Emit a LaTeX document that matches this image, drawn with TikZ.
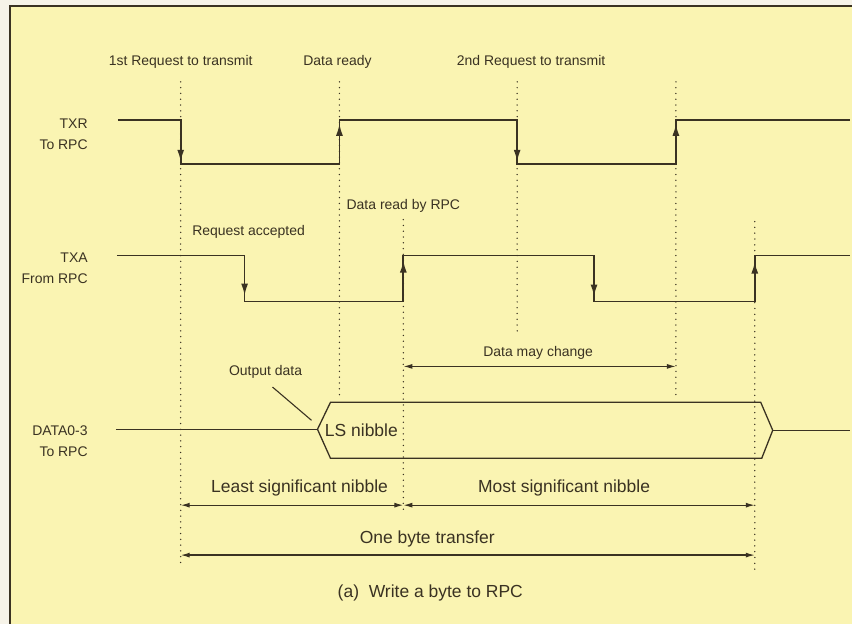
\documentclass[tikz,border=0pt]{standalone}
\usepackage{fontspec}
\setmainfont{Liberation Sans}
\usetikzlibrary{arrows.meta,calc,positioning}
\definecolor{paper}{RGB}{250,244,178}
\definecolor{margin}{RGB}{246,243,232}
\definecolor{ink}{RGB}{58,50,34}
\tikzset{
  signal/.style={draw=ink, line width=1.7pt, line join=miter},
  edge/.style={draw=ink, line width=1.7pt, -{Latex[length=12pt,width=7pt]}},
  guide/.style={draw=ink, line width=1.5pt, line cap=round,
    dash pattern=on 0pt off 5.8pt},
  dimen/.style={draw=ink, line width=1.2pt,
    {Latex[length=9pt,width=5pt]}-{Latex[length=9pt,width=5pt]}},
  leader/.style={draw=ink, line width=1.1pt},
  small/.style={text=ink, font=\fontsize{14}{21}\selectfont, inner sep=0pt},
  big/.style={text=ink, font=\fontsize{17.5}{20}\selectfont, inner sep=0pt},
  siglabel/.style={small, align=right, anchor=east},
}
\begin{document}
\begin{tikzpicture}[x=1pt,y=-1pt]
  \fill[margin] (0,0) rectangle (853,625);
  \fill[paper] (9,5) rectangle (853,625);
  \draw[ink, line width=2.8pt] (10,625) -- (10,6) -- (853,6);
  \useasboundingbox (0,0) rectangle (853,625);

  % time marks and rows
  \coordinate (ReqOne) at (181,0);
  \coordinate (Accept) at (245,0);
  \coordinate (Ready) at (340,0);
  \coordinate (ReadOne) at (404,0);
  \coordinate (ReqTwo) at (518,0);
  \coordinate (AcceptTwo) at (595,0);
  \coordinate (ReadyTwo) at (677,0);
  \coordinate (ReadTwo) at (756,0);
  \coordinate (RowChange) at (0,367);
  \coordinate (RowNibble) at (0,506);
  \coordinate (RowByte) at (0,556);

  % dotted guides
  \draw[guide] (ReqOne |- 0,82) -- (ReqOne |- 0,568);
  \draw[guide] (Ready |- 0,82) -- (Ready |- 0,398);
  \draw[guide] (ReadOne |- 0,220) -- (ReadOne |- 0,514);
  \draw[guide] (ReqTwo |- 0,82) -- (ReqTwo |- 0,334);
  \draw[guide] (ReadyTwo |- 0,82) -- (ReadyTwo |- 0,398);
  \draw[guide] (ReadTwo |- 0,222) -- (ReadTwo |- 0,570);

  % top labels
  \node[small] (FirstReq) at (181,62) {1st Request to transmit};
  \node[small] (DataReady) at (338,62) {Data ready};
  \node[small] (SecondReq) at (532,62) {2nd Request to transmit};
  \node[small] (DataRead) at (404,206) {Data read by RPC};
  \node[small] (ReqAccepted) at (249,232) {Request accepted};

  % signal names
  \node[siglabel] (TXR) at (88,134) {TXR\\To RPC};
  \node[siglabel] (TXA) at (88,269) {TXA\\From RPC};
  \node[siglabel] (DATA) at (88,442) {DATA0-3\\To RPC};

  % TXR
  \draw[signal] (118,120) -- (181,120) -- (181,164) -- (340,164) -- (340,120)
    -- (518,120) -- (518,164) -- (677,164) -- (677,120) -- (851,120);
  \draw[edge] (181,128) -- (181,162);
  \draw[edge] (340,158) -- (340,124);
  \draw[edge] (518,128) -- (518,162);
  \draw[edge] (677,158) -- (677,124);

  % TXA
  \draw[signal] (117,256) -- (245,256) -- (245,302) -- (404,302) -- (404,256)
    -- (595,256) -- (595,302) -- (756,302) -- (756,256) -- (851,256);
  \draw[edge] (245,262) -- (245,296);
  \draw[edge] (404,298) -- (404,261);
  \draw[edge] (595,262) -- (595,297);
  \draw[edge] (756,296) -- (756,262);

  % DATA0-3
  \coordinate (BoxLeft) at (318,430);
  \coordinate (BoxRight) at (774,431);
  \draw[signal, line width=1.3pt] (116,430) -- (BoxLeft);
  \draw[signal, line width=1.3pt] (BoxLeft) -- (331,403) -- (762,403)
    -- (BoxRight) -- (763,459) -- (331,459) -- cycle;
  \draw[signal, line width=1.3pt] (BoxRight) -- (851,431);
  \node[big] (LSNib) at (362,431) {LS nibble};

  \node[small] (OutputData) at (266,372) {Output data};
  \coordinate (OutLead) at (312,421);
  \draw[leader] (OutputData.south) ++(7,9) -- (OutLead);

  % spans
  \node[small] (MayChange) at (539,353) {Data may change};
  \draw[dimen] (ReadOne |- RowChange) -- (ReadyTwo |- RowChange);
  \node[big] (LSB) at (300,489) {Least significant nibble};
  \draw[dimen] (ReqOne |- RowNibble) -- (ReadOne |- RowNibble);
  \node[big] (MSB) at (565,489) {Most significant nibble};
  \draw[dimen] (ReadOne |- RowNibble) -- (ReadTwo |- RowNibble);
  \node[big] (OneByte) at (428,540) {One byte transfer};
  \draw[dimen] (ReqOne |- RowByte) -- (ReadTwo |- RowByte);

  \node[big] (Caption) at (431,594) {(a)\ \ Write a byte to RPC};
\end{tikzpicture}
\end{document}
